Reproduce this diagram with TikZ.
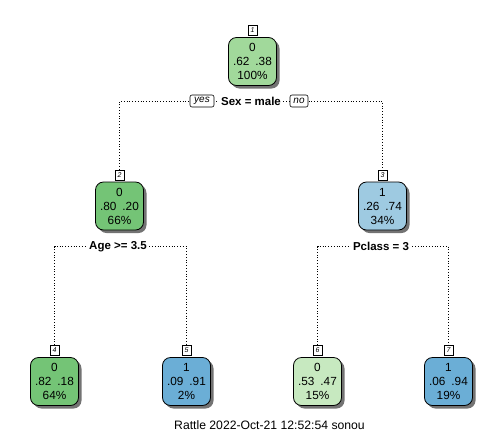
\documentclass[tikz,border=0pt]{standalone}
\usepackage{fontspec}
\setmainfont{Liberation Sans}
\usetikzlibrary{shadows}
\pgfdeclarelayer{bg}
\pgfsetlayers{bg,main}

% RColorBrewer Greens / Blues fills
\definecolor{gA}{HTML}{A1D99B}
\definecolor{gB}{HTML}{74C476}
\definecolor{gC}{HTML}{C7E9C0}
\definecolor{bA}{HTML}{9ECAE1}
\definecolor{bB}{HTML}{6BAED6}

\tikzset{
  treebox/.style={rounded corners=8pt, draw=black, line width=0.8pt,
    minimum width=48pt, minimum height=48pt, inner sep=0pt, align=center,
    font=\fontsize{11.8}{14}\selectfont,
    drop shadow={shadow xshift=3pt, shadow yshift=-3pt, fill=black!55, opacity=1}},
  numlab/.style={draw=black, fill=white, line width=0.6pt, minimum width=9pt,
    minimum height=10pt, inner sep=0pt, font=\fontsize{7}{7}\selectfont\itshape},
  splitlab/.style={fill=white, inner xsep=2pt, inner ysep=1pt,
    font=\fontsize{11.5}{13}\selectfont\bfseries},
  yesno/.style={draw=black, fill=white, rounded corners=2pt, line width=0.6pt,
    minimum height=12pt, inner xsep=0pt, inner ysep=0pt,
    font=\fontsize{10}{11}\selectfont\itshape},
  dotline/.style={draw=black, line width=0.8pt, dotted},
}

\begin{document}
\begin{tikzpicture}[x=1pt,y=-1pt]
\useasboundingbox (0,0) rectangle (504,432);

% tree nodes
\node[treebox, fill=gA] (n1) at (252.5,61.5) {0\\.62\hspace{0.5em}.38\\100\%};
\node[treebox, fill=gB] (n2) at (119.5,206) {0\\.80\hspace{0.5em}.20\\66\%};
\node[treebox, fill=bA] (n3) at (382.5,206) {1\\.26\hspace{0.5em}.74\\34\%};
\node[treebox, fill=gB] (n4) at (54.5,381.5) {0\\.82\hspace{0.5em}.18\\64\%};
\node[treebox, fill=bB] (n5) at (186.5,381.5) {1\\.09\hspace{0.5em}.91\\2\%};
\node[treebox, fill=gC] (n6) at (317.5,381.5) {0\\.53\hspace{0.5em}.47\\15\%};
\node[treebox, fill=bB] (n7) at (448.5,381.5) {1\\.06\hspace{0.5em}.94\\19\%};

% node numbers
\node[numlab, anchor=south] (l1) at ([yshift=1.5pt]n1.north) {1};
\node[numlab, anchor=south] (l2) at ([yshift=1.5pt]n2.north) {2};
\node[numlab, anchor=south] (l3) at ([yshift=1.5pt]n3.north) {3};
\node[numlab, anchor=south] (l4) at ([yshift=1.5pt]n4.north) {4};
\node[numlab, anchor=south] (l5) at ([yshift=1.5pt]n5.north) {5};
\node[numlab, anchor=south] (l6) at ([yshift=1.5pt]n6.north) {6};
\node[numlab, anchor=south] (l7) at ([yshift=1.5pt]n7.north) {7};

% split labels
\node[splitlab] (s1) at (251,101) {Sex = male};
\node[yesno, minimum width=24pt] (yes) at (202,101) {yes};
\node[yesno, minimum width=18pt] (no) at (299,101) {no};
\node[splitlab] (s2) at (118,246.5) {Age >= 3.5};
\node[splitlab] (s3) at (381,246.5) {Pclass = 3};

% branches
\begin{pgfonlayer}{bg}
\draw[dotline] (l2.north) |- (s1.center) -| (l3.north);
\draw[dotline] (l4.north) |- (s2.center) -| (l5.north);
\draw[dotline] (l6.north) |- (s3.center) -| (l7.north);
\end{pgfonlayer}

% footer
\node[font=\fontsize{12.2}{14}\selectfont] (foot) at (269.5,425) {Rattle 2022-Oct-21 12:52:54 sonou};
\end{tikzpicture}
\end{document}
